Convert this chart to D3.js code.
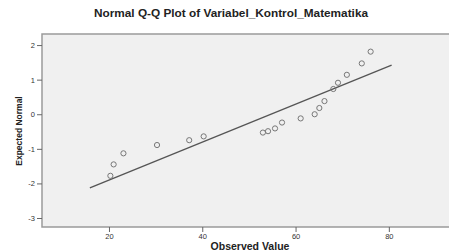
<!DOCTYPE html>
<html>
<head>
<meta charset="utf-8">
<script src="https://cdn.jsdelivr.net/npm/d3@7"></script>
<style>
  body { margin: 0; background: #fff; }
  svg { display: block; font-family: Arial, "Liberation Sans", sans-serif; }
</style>
</head>
<body>
<svg class="qq__svg" width="449" height="252"></svg>
<script>
// values
const observed = [20.3, 21.0, 23.1, 30.3, 37.2, 40.3, 53.0, 54.1, 55.6, 57.1, 61.1, 64.1, 65.1, 66.2, 68.1, 69.1, 71.0, 74.2, 76.1];
const expected = [-1.78, -1.45, -1.13, -0.89, -0.75, -0.64, -0.53, -0.49, -0.41, -0.24, -0.12, 0.0, 0.18, 0.38, 0.73, 0.91, 1.14, 1.47, 1.81];

// reference line ends (observed, expected)
const lineObserved = [15.9, 80.6];
const lineExpected = [-2.13, 1.42];

const xTicks = [20, 40, 60, 80];
const yTicks = [-3, -2, -1, 0, 1, 2];

const svg = d3.select('.qq__svg');

// plot box
const boxLeft = 42, boxRight = 449, boxTop = 34, boxBottom = 227;

const x = d3.scaleLinear().domain([5.64, 92.9]).range([boxLeft, boxRight]);
const y = d3.scaleLinear().domain([-3.26, 2.32]).range([boxBottom, boxTop]);

// title
svg.append('text')
    .attr('x', 231).attr('y', 17)
    .attr('text-anchor', 'middle')
    .attr('font-size', 11.8).attr('font-weight', 'bold')
    .attr('fill', '#222')
    .text('Normal Q-Q Plot of Variabel_Kontrol_Matematika');

// background
svg.append('rect')
    .attr('x', boxLeft).attr('y', boxTop)
    .attr('width', boxRight - boxLeft + 2).attr('height', boxBottom - boxTop)
    .attr('fill', '#f0f0f0')
    .attr('stroke', '#9a9a9a').attr('stroke-width', 1.5);

// axes
const xAxis = svg.append('g')
    .attr('transform', `translate(0,${boxBottom})`)
    .call(d3.axisBottom(x).tickValues(xTicks).tickSize(5).tickPadding(2)
        .tickFormat(d => String(d)));

const yAxis = svg.append('g')
    .attr('transform', `translate(${boxLeft},0)`)
    .call(d3.axisLeft(y).tickValues(yTicks).tickSize(5).tickPadding(2)
        .tickFormat(d => String(d)));

[xAxis, yAxis].forEach(g => {
    g.select('.domain').remove();
    g.selectAll('line').attr('stroke', '#666');
    g.selectAll('text').attr('font-size', 7.5).attr('fill', '#333')
        .attr('font-family', 'Arial, "Liberation Sans", sans-serif');
});

// axis titles
svg.append('text')
    .attr('x', 250).attr('y', 249.5)
    .attr('text-anchor', 'middle')
    .attr('font-size', 10.5).attr('font-weight', 'bold')
    .attr('fill', '#222')
    .text('Observed Value');

svg.append('text')
    .attr('transform', 'translate(22,131) rotate(-90)')
    .attr('text-anchor', 'middle')
    .attr('font-size', 8.5).attr('font-weight', 'bold')
    .attr('fill', '#222')
    .text('Expected Normal');

// reference line
svg.append('line')
    .attr('x1', x(lineObserved[0])).attr('y1', y(lineExpected[0]))
    .attr('x2', x(lineObserved[1])).attr('y2', y(lineExpected[1]))
    .attr('stroke', '#555').attr('stroke-width', 1.3);

// points
svg.selectAll('.qq__point')
    .data(d3.zip(observed, expected))
    .join('circle')
    .attr('class', 'qq__point')
    .attr('cx', d => x(d[0]))
    .attr('cy', d => y(d[1]))
    .attr('r', 2.6)
    .attr('fill', 'none')
    .attr('stroke', '#777')
    .attr('stroke-width', 1);
</script>
</body>
</html>
